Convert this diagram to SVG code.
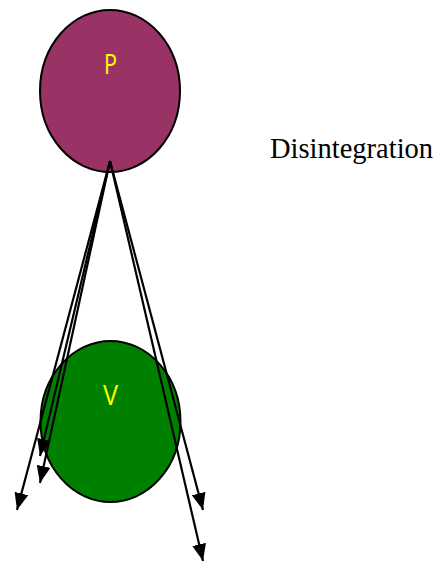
<svg xmlns="http://www.w3.org/2000/svg" width="434" height="562" viewBox="0 0 434 562">
<style>
.node{stroke:#000;stroke-width:2}
.lbl{font-family:"Open Sans","DejaVu Sans",sans-serif;font-size:28px;fill:#ffff00;text-anchor:middle;transform-box:fill-box}
.conn line{stroke:#000;stroke-width:2.2;marker-end:url(#ah)}
</style>
<defs>
<marker id="ah" markerUnits="userSpaceOnUse" markerWidth="18" markerHeight="14" viewBox="0 0 18 14" refX="17" refY="7" orient="auto">
<path d="M0,0 L17,7 L0,14 Z" fill="#000"/>
</marker>
</defs>
<g id="V">
<ellipse class="node" cx="110.5" cy="421.5" rx="70" ry="80.5" fill="#008000"/>
<text class="lbl" x="110.5" y="405" textLength="15" lengthAdjust="spacingAndGlyphs">V</text>
</g>
<g id="P">
<ellipse class="node" cx="110" cy="91" rx="70" ry="81" fill="#993366"/>
<text class="lbl" x="110.5" y="74" textLength="13" lengthAdjust="spacingAndGlyphs">P</text>
</g>
<g class="conn">
<line x1="110" y1="161" x2="17" y2="510"/>
<line x1="110" y1="161" x2="40" y2="483"/>
<line x1="110" y1="161" x2="40" y2="456"/>
<line x1="110" y1="161" x2="203" y2="510"/>
<line x1="110" y1="161" x2="203" y2="561"/>
</g>
<g id="Disintegration">
<text x="270" y="158" font-family="Liberation Serif,serif" font-size="28.5" fill="#000">Disintegration</text>
</g>
</svg>
